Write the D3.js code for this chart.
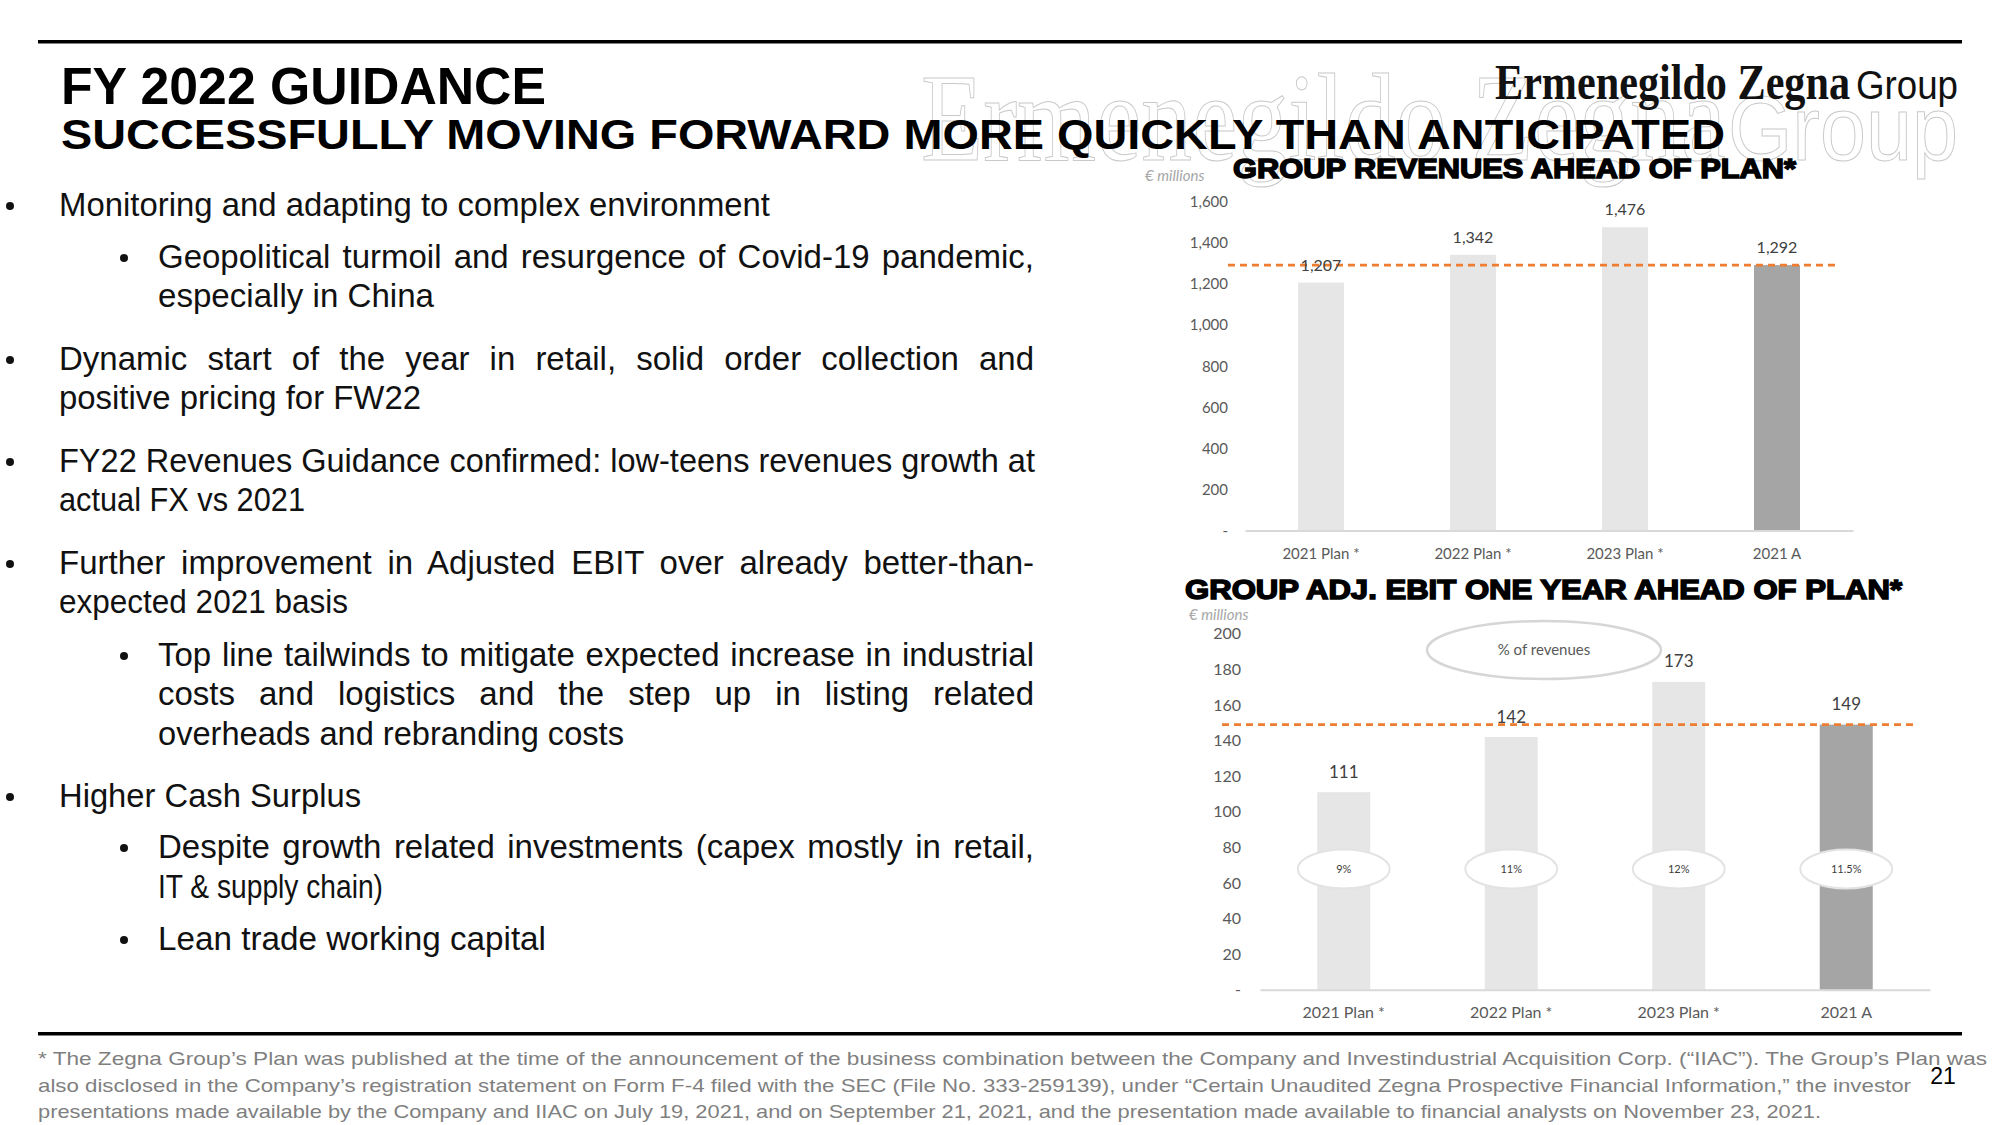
<!DOCTYPE html>
<html><head><meta charset="utf-8">
<script src="https://cdn.jsdelivr.net/npm/d3@7"></script>
<style>
html,body{margin:0;padding:0;background:#fff;}
svg{display:block;}
</style></head><body>
<svg id="slide" width="2000" height="1125"></svg>
<script>
// ---------------- DATA ----------------
const categories = ["2021 Plan *", "2022 Plan *", "2023 Plan *", "2021 A"];
const actualCategory = "2021 A";
const revenueValues = [1207, 1342, 1476, 1292];
const revenueTicks = [0, 200, 400, 600, 800, 1000, 1200, 1400, 1600];
const revenueReference = 1292;
const ebitValues = [111, 142, 173, 149];
const ebitMargins = ["9%", "11%", "12%", "11.5%"];
const ebitTicks = [0, 20, 40, 60, 80, 100, 120, 140, 160, 180, 200];
const ebitReference = 149;

const titleText = "FY 2022 GUIDANCE";
const subtitleText = "SUCCESSFULLY MOVING FORWARD MORE QUICKLY THAN ANTICIPATED";
const revenueTitle = "GROUP REVENUES AHEAD OF PLAN*";
const ebitTitle = "GROUP ADJ. EBIT ONE YEAR AHEAD OF PLAN*";
const unitLabel = "€ millions";
const marginLabel = "% of revenues";

const bulletLines = [
  "Monitoring and adapting to complex environment",
  "Geopolitical turmoil and resurgence of Covid-19 pandemic,",
  "especially in China",
  "Dynamic start of the year in retail, solid order collection and",
  "positive pricing for FW22",
  "FY22 Revenues Guidance confirmed: low-teens revenues growth at",
  "actual FX vs 2021",
  "Further improvement in Adjusted EBIT over already better-than-",
  "expected 2021 basis",
  "Top line tailwinds to mitigate expected increase in industrial",
  "costs and logistics and the step up in listing related",
  "overheads and rebranding costs",
  "Higher Cash Surplus",
  "Despite growth related investments (capex mostly in retail,",
  "IT & supply chain)",
  "Lean trade working capital"
];
const bulletLevels = [1,2,2,1,1,1,1,1,1,2,2,2,1,2,2,2];
const bulletStarts = [true,true,false,true,false,true,false,true,false,true,false,false,true,true,false,true];
const bulletJustified = [false,true,false,true,false,true,false,true,false,true,true,false,false,true,false,false];

const footnoteLines = [
  "* The Zegna Group\u2019s Plan was published at the time of the announcement of the business combination between the Company and Investindustrial Acquisition Corp. (\u201CIIAC\u201D). The Group\u2019s Plan was",
  "also disclosed in the Company\u2019s registration statement on Form F-4 filed with the SEC (File No. 333-259139), under \u201CCertain Unaudited Zegna Prospective Financial Information,\u201D the investor",
  "presentations made available by the Company and IIAC on July 19, 2021, and on September 21, 2021, and the presentation made available to financial analysts on November 23, 2021."
];
const pageNumber = "21";

// ---------------- LAYOUT ----------------
const svg = d3.select("#slide");
const SANS = "'Liberation Sans', Arial, sans-serif";
const SERIF = "'Liberation Serif', 'Times New Roman', serif";
const CHART = "Lato, 'Open Sans', sans-serif";

// rules
svg.append("rect").attr("x", 38).attr("y", 40).attr("width", 1924).attr("height", 3.5).attr("fill", "#000");
svg.append("rect").attr("x", 38).attr("y", 1032).attr("width", 1924).attr("height", 3.5).attr("fill", "#000");

// watermark (outlined logo)
const wm = svg.append("g").attr("fill", "none").attr("stroke", "#c9c9c9").attr("stroke-width", 1);
wm.append("text").attr("x", 921).attr("y", 160).attr("font-family", SERIF).attr("font-size", 124)
  .attr("textLength", 805).attr("lengthAdjust", "spacingAndGlyphs").text("Ermenegildo Zegna");
wm.append("text").attr("x", 1728).attr("y", 160).attr("font-family", SANS).attr("font-size", 90).attr("font-weight", 300)
  .attr("textLength", 230).attr("lengthAdjust", "spacingAndGlyphs").text("Group");

// logo
svg.append("text").attr("x", 1495).attr("y", 99).attr("font-family", SERIF).attr("font-size", 50).attr("font-weight", 700)
  .attr("fill", "#111")
  .attr("textLength", 355).attr("lengthAdjust", "spacingAndGlyphs").text("Ermenegildo Zegna");
svg.append("text").attr("x", 1856).attr("y", 99).attr("font-family", SANS).attr("font-size", 40)
  .attr("fill", "#111").attr("textLength", 102).attr("lengthAdjust", "spacingAndGlyphs").text("Group");

// titles
svg.append("text").attr("x", 61).attr("y", 104).attr("font-family", SANS).attr("font-weight", 700)
  .attr("font-size", 52).attr("fill", "#000").attr("textLength", 485).attr("lengthAdjust", "spacingAndGlyphs").text(titleText);
svg.append("text").attr("x", 61).attr("y", 149).attr("font-family", SANS).attr("font-weight", 700)
  .attr("font-size", 42).attr("fill", "#000").attr("textLength", 1664).attr("lengthAdjust", "spacingAndGlyphs").text(subtitleText);

// ---------------- BULLETS ----------------
const bulletBaselines = [216, 268, 307, 370, 409, 472, 511, 574, 613, 666, 705, 745, 807, 858, 898, 950];
const bulletEnds = [770, 1034, 434, 1034, 421, 1035, 305, 1034, 348, 1034, 1034, 624, 361, 1034, 383, 546];
const textX = {1: 59, 2: 158};
const dotX = {1: 10, 2: 124};
const BF = 33;
const bg = svg.append("g").attr("font-family", SANS).attr("font-size", BF).attr("fill", "#111");
bulletLines.forEach((t, i) => {
  const lvl = bulletLevels[i];
  const x0 = textX[lvl], y = bulletBaselines[i];
  if (bulletStarts[i]) {
    bg.append("circle").attr("cx", dotX[lvl]).attr("cy", y - 10).attr("r", 4).attr("fill", "#111");
  }
  const target = bulletEnds[i] - x0;
  const el = bg.append("text").attr("x", x0).attr("y", y).text(t);
  const w = el.node().getComputedTextLength();
  const nSpaces = (t.match(/ /g) || []).length;
  if (bulletJustified[i] && target > w && nSpaces > 0) {
    el.attr("word-spacing", (target - w) / nSpaces);
  } else {
    el.attr("textLength", target).attr("lengthAdjust", "spacingAndGlyphs");
  }
});

// ---------------- CHART helper ----------------
function drawChart(opt) {
  const g = svg.append("g");
  const x = d3.scaleBand().domain(categories).range(opt.xRange).padding(0);
  const y = d3.scaleLinear().domain([0, d3.max(opt.ticks)]).range(opt.yRange);
  const bw = opt.barW;
  const data = categories.map((c, i) => ({c, v: opt.values[i]}));

  g.selectAll("rect.bar").data(data).join("rect").attr("class", "bar")
    .attr("x", d => x(d.c) + x.bandwidth() / 2 - bw / 2)
    .attr("y", d => y(d.v))
    .attr("width", bw)
    .attr("height", d => y(0) - y(d.v))
    .attr("fill", d => d.c === actualCategory ? "#a5a5a5" : "#e6e6e6");

  const ya = g.append("g").attr("transform", `translate(${opt.yLabelX},0)`)
    .call(d3.axisLeft(y).tickValues(opt.ticks).tickSize(0).tickPadding(0)
      .tickFormat(d => d === 0 ? "-" : d3.format(",")(d)));
  ya.select(".domain").remove();
  ya.selectAll("text").attr("font-family", CHART).attr("font-size", opt.tickFont).attr("fill", "#595959");

  const xa = g.append("g").attr("transform", `translate(0,${y(0)})`)
    .call(d3.axisBottom(x).tickSize(0).tickSizeOuter(0).tickPadding(opt.xPad));
  xa.select(".domain").attr("stroke", "#d9d9d9").attr("stroke-width", 2);
  xa.selectAll("text").attr("font-family", CHART).attr("font-size", opt.xFont).attr("fill", "#595959");

  g.append("line").attr("x1", opt.refX[0]).attr("x2", opt.refX[1])
    .attr("y1", y(opt.reference)).attr("y2", y(opt.reference))
    .attr("stroke", "#ed7d31").attr("stroke-width", 2.6).attr("stroke-dasharray", "7,5");

  g.selectAll("text.val").data(data).join("text").attr("class", "val")
    .attr("x", d => x(d.c) + x.bandwidth() / 2)
    .attr("y", d => y(d.v) - opt.valGap)
    .attr("text-anchor", "middle").attr("font-family", CHART).attr("font-size", opt.valFont)
    .attr("fill", "#404040").text(d => d3.format(",")(d.v));
  return {g, x, y};
}

// revenue chart
svg.append("text").attr("x", 1145).attr("y", 181).attr("font-family", CHART).attr("font-style", "italic")
  .attr("font-size", 15).attr("fill", "#a6a6a6").text(unitLabel);
svg.append("text").attr("x", 1233).attr("y", 178).attr("font-family", SANS).attr("font-weight", 900)
  .attr("font-size", 27).attr("fill", "#000").attr("stroke", "#000").attr("stroke-width", 1.5)
  .attr("textLength", 563).attr("lengthAdjust", "spacingAndGlyphs").text(revenueTitle);
drawChart({values: revenueValues, ticks: revenueTicks, reference: revenueReference,
  xRange: [1245, 1853], yRange: [530.6, 201.8], barW: 46, yLabelX: 1228,
  tickFont: 15, xFont: 15, xPad: 18, valFont: 16, valGap: 12, refX: [1228, 1840]});

// EBIT chart
svg.append("text").attr("x", 1185).attr("y", 599).attr("font-family", SANS).attr("font-weight", 900)
  .attr("font-size", 27).attr("fill", "#000").attr("stroke", "#000").attr("stroke-width", 1.5)
  .attr("textLength", 717).attr("lengthAdjust", "spacingAndGlyphs").text(ebitTitle);
svg.append("text").attr("x", 1189).attr("y", 620).attr("font-family", CHART).attr("font-style", "italic")
  .attr("font-size", 15).attr("fill", "#a6a6a6").text(unitLabel);
const eb = drawChart({values: ebitValues, ticks: ebitTicks, reference: ebitReference,
  xRange: [1260, 1930], yRange: [989.8, 633.8], barW: 53, yLabelX: 1241,
  tickFont: 16, xFont: 16, xPad: 17, valFont: 17, valGap: 14.5, refX: [1222, 1917]});

// margin ellipses
const mg = svg.append("g");
mg.selectAll("ellipse").data(categories).join("ellipse")
  .attr("cx", d => eb.x(d) + eb.x.bandwidth() / 2).attr("cy", 869)
  .attr("rx", 46).attr("ry", 19.5).attr("fill", "#fff").attr("stroke", "#e3e3e3").attr("stroke-width", 2);
mg.selectAll("text").data(categories).join("text")
  .attr("x", d => eb.x(d) + eb.x.bandwidth() / 2).attr("y", 873)
  .attr("text-anchor", "middle").attr("font-family", CHART).attr("font-size", 11).attr("fill", "#404040")
  .text((d, i) => ebitMargins[i]);
svg.append("ellipse").attr("cx", 1544).attr("cy", 650).attr("rx", 117).attr("ry", 29)
  .attr("fill", "#fff").attr("stroke", "#d6d6d6").attr("stroke-width", 2.5);
svg.append("text").attr("x", 1544).attr("y", 655).attr("text-anchor", "middle").attr("font-family", CHART)
  .attr("font-size", 15).attr("fill", "#595959").text(marginLabel);

// ---------------- FOOTNOTE ----------------
const footEnds = [1987, 1911, 1821];
const footBase = [1065, 1092, 1118];
footnoteLines.forEach((t, i) => {
  svg.append("text").attr("x", 38).attr("y", footBase[i]).attr("font-family", SANS).attr("font-size", 19)
    .attr("fill", "#7f7f7f").attr("textLength", footEnds[i] - 38).attr("lengthAdjust", "spacingAndGlyphs").text(t);
});
svg.append("text").attr("x", 1943).attr("y", 1084).attr("text-anchor", "middle").attr("font-family", SANS)
  .attr("font-size", 23).attr("fill", "#000").text(pageNumber);
</script>
</body></html>
